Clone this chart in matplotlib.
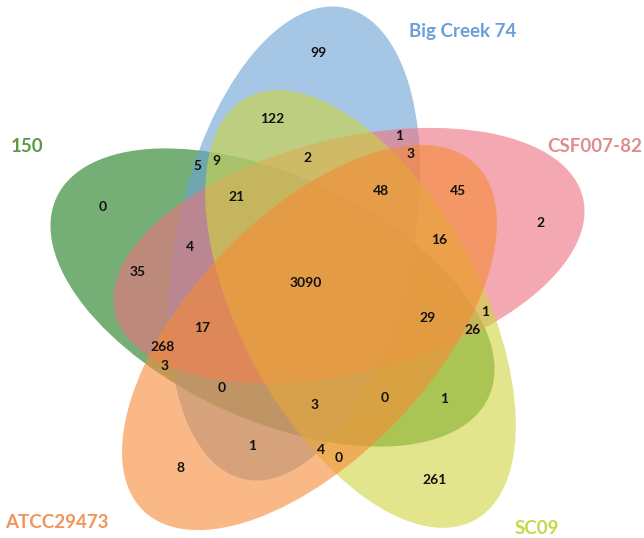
import matplotlib.pyplot as plt
from matplotlib.patches import Ellipse

# sets, in drawing order (bottom layer first)
set_names = ['150', 'Big Creek 74', 'CSF007-82', 'SC09', 'ATCC29473']
set_colors = ['#1b7b1b', '#69a0d5', '#ee717f', '#cfd53f', '#f78a35']
label_colors = ['#5b9a45', '#6a9fda', '#e08c8c', '#c8d746', '#f0955a']

# region counts and where they sit (pixel layout of the reference)
region_counts = [99, 122, 1, 3, 2, 5, 9, 0, 21, 48, 45, 2, 4, 16, 35, 3090,
                 1, 29, 26, 17, 268, 3, 0, 3, 0, 1, 1, 4, 0, 8, 261]
region_xy = [(319, 53), (272, 119), (399, 136), (411, 154), (308, 158),
             (197, 166), (216, 161), (103, 207), (237, 197), (381, 191),
             (458, 191), (541, 223), (190, 247), (439, 240), (138, 272),
             (306, 283), (485, 312), (428, 318), (473, 330), (202, 328),
             (163, 347), (165, 366), (222, 388), (315, 405), (385, 398),
             (444, 399), (252, 446), (321, 450), (339, 458), (181, 468),
             (435, 480)]
label_xy = [(27, 147), (463, 32), (595, 147), (537, 529), (57, 522)]

# ellipse layout: centre x, centre y, semi-major, semi-minor, angle (pixels, y down)
shapes = [(272.5, 297.5, 238, 122, 24.8),
          (294.5, 243.5, 241, 118, 102.0),
          (349.0, 255.5, 241, 117, 166.0),
          (360.5, 309.0, 240, 120, 61.7),
          (309.5, 337.5, 240, 121, 313.7)]

fig = plt.figure(figsize=(6.44, 5.38), dpi=100)
ax = fig.add_axes([0, 0, 1, 1])
ax.set_xlim(0, 644)
ax.set_ylim(538, 0)
ax.axis('off')

for (cx, cy, a, b, ang), col in zip(shapes, set_colors):
    ax.add_patch(Ellipse((cx, cy), 2 * a, 2 * b, angle=ang,
                         facecolor=col, edgecolor='none', alpha=0.6))

for n, (x, y) in zip(region_counts, region_xy):
    ax.text(x, y, str(n), ha='center', va='center', fontsize=10,
            fontweight='bold', family='Lato', color='#111111')

for name, col, (x, y) in zip(set_names, label_colors, label_xy):
    ax.text(x, y, name, ha='center', va='center', fontsize=13.5,
            fontweight='bold', family='Lato', color=col)

fig.savefig('out.png', dpi=100)
